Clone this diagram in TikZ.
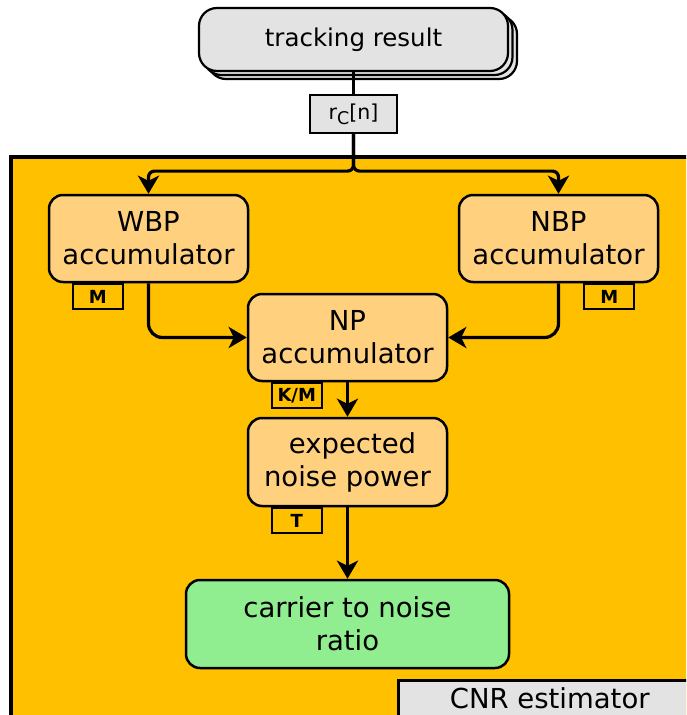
\documentclass[tikz,border=0pt]{standalone}
\usepackage{fontspec}
\setmainfont{DejaVu Sans}
\usetikzlibrary{shadows,arrows.meta}
\definecolor{frameorange}{HTML}{FFC000}
\definecolor{blockorange}{HTML}{FFD17F}
\definecolor{lightgrey}{HTML}{E3E3E3}
\definecolor{resultgreen}{HTML}{90EE90}
\begin{document}
\begin{tikzpicture}[x=1pt,y=-1pt,
  frame/.style={draw=black,line width=3.3pt,fill=frameorange},
  block/.style={draw=black,line width=2.5pt,fill=blockorange,rounded corners=14pt,
    align=center,inner sep=0pt,font=\fontsize{27.5}{33}\selectfont},
  source/.style={draw=black,line width=2.2pt,fill=lightgrey,rounded corners=18pt,
    inner sep=0pt,font=\fontsize{24.5}{29}\selectfont,
    double copy shadow={shadow xshift=4.5pt,shadow yshift=-4pt,draw=black,line width=2.2pt,fill=lightgrey}},
  signal/.style={draw=black,line width=2.2pt,fill=lightgrey,inner sep=0pt,
    font=\fontsize{20.5}{24}\selectfont},
  tag/.style={draw=black,line width=2.2pt,inner sep=0pt,minimum width=50pt,
    minimum height=25pt,anchor=north,font=\fontsize{18}{20}\selectfont\bfseries},
  link/.style={draw=black,line width=3.2pt,-{Stealth[length=18pt,width=21pt,inset=5pt]}}
]
\clip (0,0) rectangle (686,715);
\fill[white] (0,0) rectangle (686,715);

% estimator frame
\path[frame] (11,157) rectangle (720,760);

% input
\node[source,minimum width=309pt,minimum height=63pt] (track) at (353.5,39.5) {tracking result};
\node[signal,minimum width=87pt,minimum height=38pt] (rc) at (353.5,114)
  {r\raisebox{-5pt}{\fontsize{17.5}{20}\selectfont C}[n]};

% processing blocks
\node[block,minimum width=199pt,minimum height=87pt] (wbp) at (148.5,238.5) {WBP\\accumulator};
\node[block,minimum width=199pt,minimum height=87pt] (nbp) at (558.5,238.5) {NBP\\accumulator};
\node[block,minimum width=199pt,minimum height=87pt] (np) at (347.5,337.5) {NP\\accumulator};
\node[block,minimum width=199pt,minimum height=88pt] (enp) at (347.5,462) {\hspace*{10pt}expected\\noise power};
\node[block,fill=resultgreen,minimum width=323pt,minimum height=88pt] (cnr) at (347.5,624) {carrier to noise\\ratio};

% rate tags
\node[tag] (tw) at ([xshift=50pt]wbp.south west) {M};
\node[tag] (tn) at ([xshift=-50pt]nbp.south east) {M};
\node[tag] (tnp) at ([xshift=50pt]np.south west) {K/M};
\node[tag] (tenp) at ([xshift=50pt]enp.south west) {T};

% block title
\node[draw=black,line width=2.5pt,fill=lightgrey,anchor=north west,inner xsep=0pt,inner ysep=4pt,
  minimum width=303pt,text height=24pt,text depth=40pt,
  font=\fontsize{27.5}{33}\selectfont] (title) at (397,679) {CNR estimator};

% connectors
\path (rc.south) ++(0,37) coordinate (split);
\draw[line width=3.2pt] (track.south) -- (rc.north);
\draw[link,rounded corners=6pt] (rc.south) -- (split) -| (wbp.north);
\draw[link,rounded corners=6pt] (rc.south) -- (split) -| (nbp.north);
\draw[link,rounded corners=14pt] (wbp.south) |- (np.west);
\draw[link,rounded corners=14pt] (nbp.south) |- (np.east);
\draw[link] (np.south) -- (enp.north);
\draw[link] (enp.south) -- (cnr.north);
\end{tikzpicture}
\end{document}
